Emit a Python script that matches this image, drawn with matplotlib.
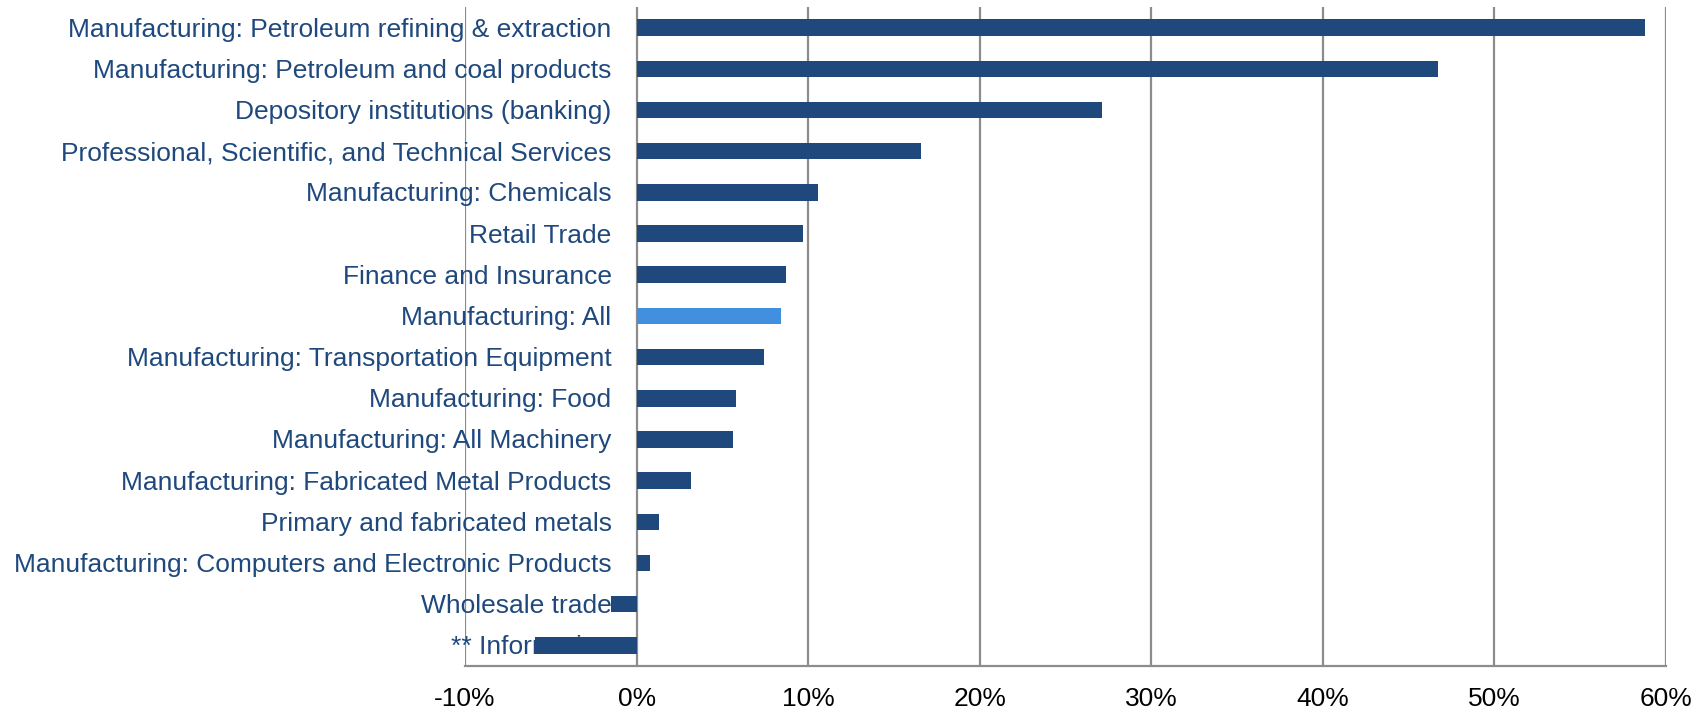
import matplotlib
matplotlib.use("Agg")
import matplotlib.pyplot as plt
from matplotlib.transforms import offset_copy

categories = [
    "Manufacturing: Petroleum refining & extraction",
    "Manufacturing: Petroleum and coal products",
    "Depository institutions (banking)",
    "Professional, Scientific, and Technical Services",
    "Manufacturing: Chemicals",
    "Retail Trade",
    "Finance and Insurance",
    "Manufacturing: All",
    "Manufacturing: Transportation Equipment",
    "Manufacturing: Food",
    "Manufacturing: All Machinery",
    "Manufacturing: Fabricated Metal Products",
    "Primary and fabricated metals",
    "Manufacturing: Computers and Electronic Products",
    "Wholesale trade",
    "** Information",
]
values = [58.8, 46.7, 27.1, 16.6, 10.6, 9.7, 8.7, 8.4, 7.4, 5.8, 5.6, 3.2, 1.3, 0.8, -1.5, -5.9]
highlight = "Manufacturing: All"
xticks = [-10, 0, 10, 20, 30, 40, 50, 60]
xticklabels = ["-10%", "0%", "10%", "20%", "30%", "40%", "50%", "60%"]

plt.rcParams['font.family'] = ['Liberation Sans', 'DejaVu Sans']

fig = plt.figure(figsize=(17.07, 7.11), dpi=100)
ax = fig.add_axes([465/1707, 1 - 666/711, (1666-465)/1707, (666-7)/711])

dark = "#1F497D"
light = "#418FDE"
ypos = list(range(len(categories)))
colors = [light if c == highlight else dark for c in categories]
ax.barh(ypos, values, height=0.4, color=colors, zorder=3)

ax.set_xlim(-10, 60)
ax.set_ylim(len(categories) - 0.5, -0.5)
ax.set_xticks(xticks)
ax.set_xticklabels(xticklabels, fontsize=19, color="black")
ax.tick_params(axis='x', length=0, pad=15)
ax.set_yticks([])

for x in xticks:
    ax.axvline(x, color="#8C8C8C", lw=1.6, zorder=1)

for s in ["top", "right", "left"]:
    ax.spines[s].set_visible(False)
ax.spines["bottom"].set_color("#8C8C8C")
ax.spines["bottom"].set_linewidth(1.6)

trans = offset_copy(ax.transData, fig=fig, x=-25, y=-2, units='dots')
for i, c in enumerate(categories):
    ax.text(0, i, c, transform=trans, ha='right', va='center', fontsize=19,
            color=dark, zorder=2, clip_on=False)

fig.savefig("out.png", dpi=100)
